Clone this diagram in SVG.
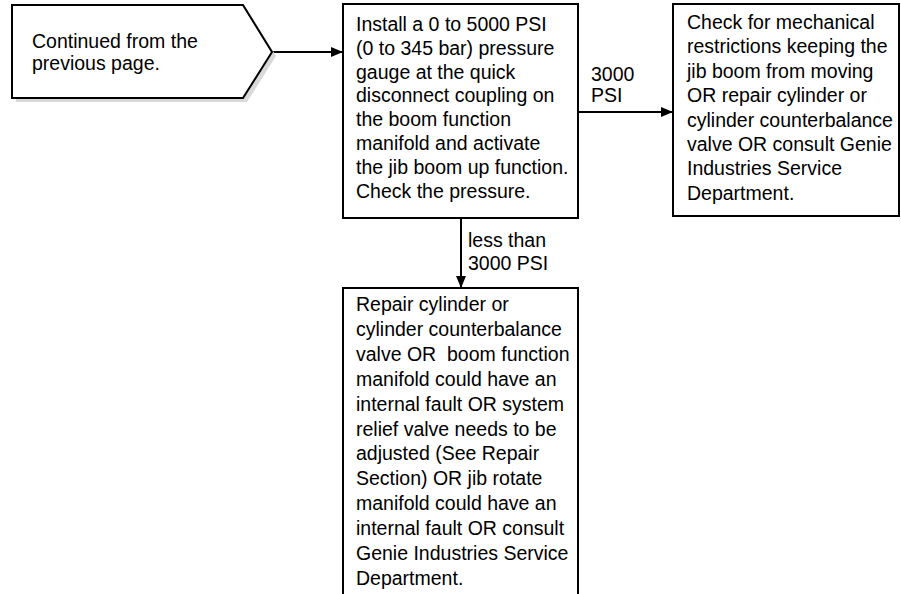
<svg xmlns="http://www.w3.org/2000/svg" width="901" height="594" viewBox="0 0 901 594">
<defs>
<style>
.box{fill:#fff;stroke:#000;stroke-width:2}
.shadow{fill:#d9d9d9;stroke:none}
.t{font-family:"Liberation Sans",Arial,sans-serif;font-size:19.5px;fill:#000}
.line{stroke:#000;stroke-width:2;fill:none}
</style>
<marker id="arr" viewBox="0 0 12 10" refX="12" refY="5" markerWidth="12" markerHeight="10" markerUnits="userSpaceOnUse" orient="auto">
<path d="M0,0 L12,5 L0,10 Z" fill="#000"/>
</marker>
</defs>
<rect width="901" height="594" fill="#fff"/>
<g id="connectors">
<line class="line" x1="272" y1="52" x2="343" y2="52" marker-end="url(#arr)"/>
<line class="line" x1="578" y1="112" x2="673" y2="112" marker-end="url(#arr)"/>
<line class="line" x1="461" y1="218" x2="461" y2="288" marker-end="url(#arr)"/>
<text class="t" x="591" y="81">3000</text>
<text class="t" x="591" y="102">PSI</text>
<text class="t" x="468" y="247">less than</text>
<text class="t" x="468" y="270">3000 PSI</text>
</g>
<g id="start">
<path class="shadow" d="M16,9 L247,9 L276,56 L247,102 L16,102 Z"/>
<path class="box" d="M12,5 L243,5 L272,52 L243,98 L12,98 Z"/>
<text class="t" x="32" y="48">Continued from the</text>
<text class="t" x="32" y="70">previous page.</text>
</g>
<g id="check-pressure">
<rect class="box" x="343" y="4" width="235" height="214"/>
<text class="t">
<tspan x="356" y="31">Install a 0 to 5000 PSI</tspan>
<tspan x="356" y="54.8">(0 to 345 bar) pressure</tspan>
<tspan x="356" y="78.6">gauge at the quick</tspan>
<tspan x="356" y="102.4">disconnect coupling on</tspan>
<tspan x="356" y="126.2">the boom function</tspan>
<tspan x="356" y="150">manifold and activate</tspan>
<tspan x="356" y="173.8">the jib boom up function.</tspan>
<tspan x="356" y="197.6">Check the pressure.</tspan>
</text>
</g>
<g id="mechanical">
<rect class="box" x="673" y="4" width="226" height="212"/>
<text class="t">
<tspan x="687" y="29">Check for mechanical</tspan>
<tspan x="687" y="53.4">restrictions keeping the</tspan>
<tspan x="687" y="77.8">jib boom from moving</tspan>
<tspan x="687" y="102.2">OR repair cylinder or</tspan>
<tspan x="687" y="126.6">cylinder counterbalance</tspan>
<tspan x="687" y="151">valve OR consult Genie</tspan>
<tspan x="687" y="175.4">Industries Service</tspan>
<tspan x="687" y="199.8">Department.</tspan>
</text>
</g>
<g id="repair">
<rect class="box" x="343" y="288" width="235" height="320"/>
<text class="t">
<tspan x="356" y="311">Repair cylinder or</tspan>
<tspan x="356" y="335.9">cylinder counterbalance</tspan>
<tspan x="356" y="360.8" xml:space="preserve">valve OR  boom function</tspan>
<tspan x="356" y="385.7">manifold could have an</tspan>
<tspan x="356" y="410.6">internal fault OR system</tspan>
<tspan x="356" y="435.5">relief valve needs to be</tspan>
<tspan x="356" y="460.4">adjusted (See Repair</tspan>
<tspan x="356" y="485.3">Section) OR jib rotate</tspan>
<tspan x="356" y="510.2">manifold could have an</tspan>
<tspan x="356" y="535.1">internal fault OR consult</tspan>
<tspan x="356" y="560">Genie Industries Service</tspan>
<tspan x="356" y="584.9">Department.</tspan>
</text>
</g>
</svg>
